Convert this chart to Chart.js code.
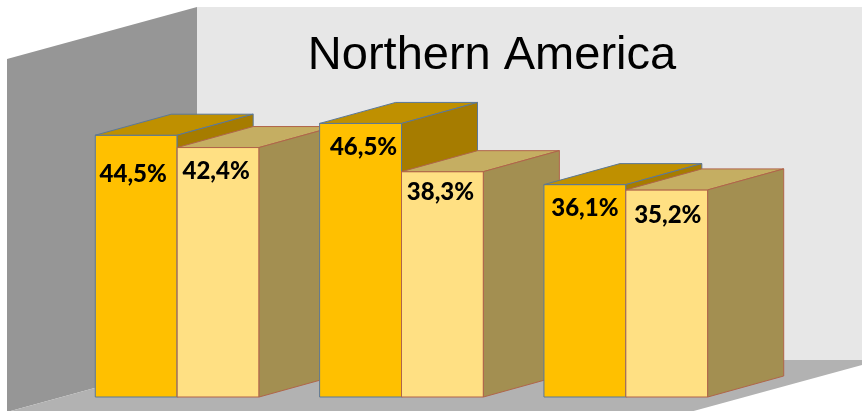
<!DOCTYPE html>
<html>
<head>
<meta charset="utf-8">
<title>Northern America</title>
<script src="https://cdn.jsdelivr.net/npm/chart.js@4/dist/chart.umd.min.js"></script>
<style>
  html, body { margin: 0; padding: 0; background: #fff; }
  canvas { display: block; }
</style>
</head>
<body>
<canvas id="chart" width="862" height="411"></canvas>
<script>
const chartTitle = "Northern America";
const categories = ["Group 1", "Group 2", "Group 3"];
const seriesNames = ["Series 1", "Series 2"];
const series1 = [44.5, 46.5, 36.1];
const series2 = [42.4, 38.3, 35.2];

// front / top / side / edge colours for each series
const palette = [
    { front: "#ffc000", top: "#bf9000", side: "#a67c00", edge: "#5b7898" },
    { front: "#ffe083", top: "#c5ae62", side: "#a38f51", edge: "#b0654a" }
];

const DX = 76, DY = -21;          // depth of a bar
const WDX = 190, WDY = -52;       // depth of walls and floor
// label shifts [dx, dy] per group / series
const labelNudge = [
    [[-3, 15], [-2, 0]],
    [[3, 0], [-2, -3]],
    [[0, 0], [1, 1]]
];

function fmt(v) {
    return v.toFixed(1).replace(".", ",") + "%";
}

function poly(ctx, pts, fill, stroke) {
    ctx.beginPath();
    ctx.moveTo(pts[0][0], pts[0][1]);
    for (let i = 1; i < pts.length; i++) ctx.lineTo(pts[i][0], pts[i][1]);
    ctx.closePath();
    ctx.fillStyle = fill;
    ctx.fill();
    if (stroke) {
        ctx.strokeStyle = stroke;
        ctx.lineWidth = 1;
        ctx.stroke();
    }
}

const box3d = {
    id: "box3d",
    beforeDatasetsDraw(chart) {
        const ctx = chart.ctx;
        const a = chart.chartArea;
        const fx = a.left - 58, fy = a.bottom + 15, ty = a.top + 15;
        const bx = fx + WDX, by = fy + WDY;
        const rx = a.right - 48;
        ctx.save();
        // back wall
        poly(ctx, [[bx, ty + WDY], [rx + WDX, ty + WDY], [rx + WDX, by], [bx, by]], "#e7e7e7");
        // left wall
        poly(ctx, [[fx, ty], [bx, ty + WDY], [bx, by], [fx, fy]], "#969696");
        // floor
        poly(ctx, [[fx, fy], [bx, by], [rx + WDX, by], [rx, fy]], "#b2b2b2");

        ctx.fillStyle = "#000";
        ctx.font = "47px 'Liberation Sans', Arial, sans-serif";
        ctx.textAlign = "center";
        ctx.textBaseline = "alphabetic";
        ctx.fillText(chartTitle, 492, 69);
        ctx.restore();
    },
    afterDatasetsDraw(chart) {
        const ctx = chart.ctx;
        const labels = [];
        ctx.save();
        ctx.lineJoin = "round";
        for (let i = 0; i < categories.length; i++) {
            for (let d = 0; d < chart.data.datasets.length; d++) {
                const bar = chart.getDatasetMeta(d).data[i];
                const p = bar.getProps(["x", "y", "base", "width"], true);
                const c = palette[d];
                const l = p.x - p.width / 2, r = p.x + p.width / 2;
                poly(ctx, [[l, p.y], [r, p.y], [r, p.base], [l, p.base]], c.front, c.edge);
                poly(ctx, [[l, p.y], [l + DX, p.y + DY], [r + DX, p.y + DY], [r, p.y]], c.top, c.edge);
                poly(ctx, [[r, p.y], [r + DX, p.y + DY], [r + DX, p.base + DY], [r, p.base]], c.side, c.edge);
                const v = chart.data.datasets[d].data[i];
                const n = labelNudge[i][d];
                labels.push([fmt(v), p.x + n[0], p.y + 24 + n[1]]);
            }
        }
        ctx.fillStyle = "#000";
        ctx.font = "900 24px Lato, 'Open Sans', sans-serif";
        ctx.textAlign = "center";
        ctx.textBaseline = "middle";
        labels.forEach(t => ctx.fillText(t[0], t[1], t[2]));
        ctx.restore();
    }
};

new Chart(document.getElementById("chart"), {
    type: "bar",
    data: {
        labels: categories,
        datasets: [
            { label: seriesNames[0], data: series1 },
            { label: seriesNames[1], data: series2 }
        ].map(ds => Object.assign(ds, {
            backgroundColor: "rgba(0,0,0,0)",
            borderWidth: 0,
            barPercentage: 1,
            categoryPercentage: 0.73
        }))
    },
    options: {
        responsive: false,
        devicePixelRatio: 1,
        animation: false,
        layout: { padding: { left: 65, right: 124, top: 44, bottom: 14 } },
        scales: {
            x: { display: false },
            y: { display: false, min: 0, max: 60 }
        },
        plugins: {
            legend: { display: false },
            tooltip: { enabled: false },
            title: { display: false }
        }
    },
    plugins: [box3d]
});
</script>
</body>
</html>
